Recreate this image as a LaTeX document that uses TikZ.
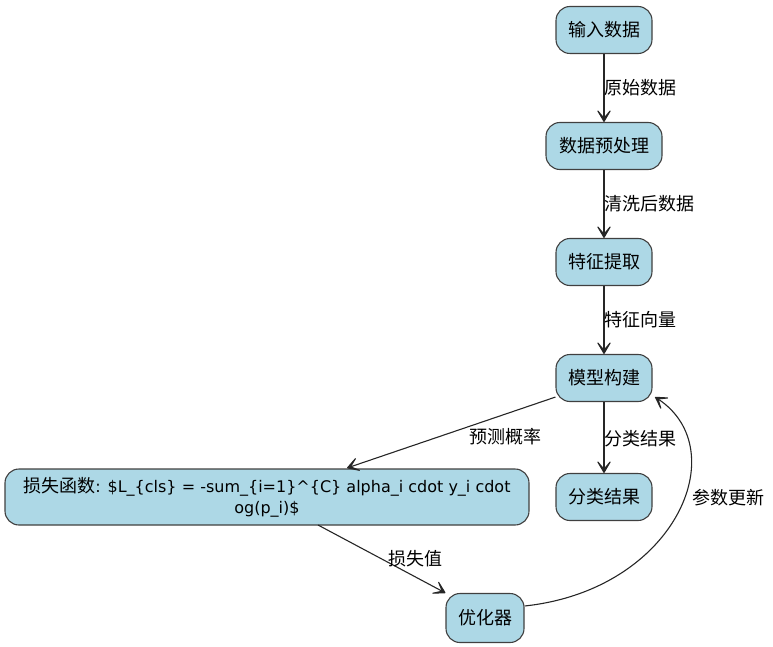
\documentclass[tikz,border=0pt]{standalone}
\usepackage{fontspec}
\setmainfont{DejaVu Sans}
\newfontfamily\cjk{Noto Sans CJK SC}
\usetikzlibrary{arrows.meta}
\begin{document}
\begin{tikzpicture}[x=1pt,y=-1pt,
  box/.style={draw=black!75, line width=1.1pt, fill=lightblue, rounded corners=14pt, minimum height=47pt, inner sep=2pt, font=\fontsize{18}{20}\selectfont},
  conn/.style={draw=black!85, line width=1.1pt, -{Stealth[length=17pt,width=20pt,inset=12pt,round]}},
  lab/.style={font=\cjk\fontsize{18}{20}\selectfont, inner sep=0pt}]
\definecolor{lightblue}{HTML}{ADD8E6}
\useasboundingbox (0,0) rectangle (773,647);
\node[box, minimum width=96pt] (in) at (604,30) {\cjk 输入数据};
\node[box, minimum width=116pt] (pre) at (604,146) {\cjk 数据预处理};
\node[box, minimum width=96pt] (feat) at (604,262) {\cjk 特征提取};
\node[box, minimum width=96pt] (model) at (604,378) {\cjk 模型构建};
\node[box, minimum width=96pt] (cls) at (604,497) {\cjk 分类结果};
\node[box, minimum width=524pt, minimum height=56pt, align=center, font=\fontsize{16}{21}\selectfont] (loss) at (267,497) {{\cjk\fontsize{18}{21}\selectfont 损失函数}: \$L\_\{cls\} = -sum\_\{i=1\}\^{}\{C\} alpha\_i cdot y\_i cdot\\og(p\_i)\$};
\node[box, minimum width=78pt, minimum height=49pt] (opt) at (485,618) {\cjk 优化器};
\draw[conn] (in) -- (pre) node[lab, midway, anchor=west, xshift=0pt] {原始数据};
\draw[conn] (pre) -- (feat) node[lab, midway, anchor=west, xshift=0pt] {清洗后数据};
\draw[conn] (feat) -- (model) node[lab, midway, anchor=west, xshift=0pt] {特征向量};
\draw[conn] (model) -- (cls) node[lab, midway, anchor=west, xshift=0pt, yshift=-1pt] {分类结果};
\path (model.south west) ++(0,-5) coordinate (m1);
\draw[conn] (m1) -- (347,468) coordinate (lossin);
\node[lab] (l1) at (505,437) {预测概率};
\draw[conn] (318,525) coordinate (lossout) -- (opt.north west);
\node[lab] (l2) at (415,559) {损失值};
\draw[conn] (opt.east) ++(0,-12) coordinate (o1) .. controls (675,590) and (735,450) .. (655,397);
\node[lab] (l3) at (728,498) {参数更新};
\end{tikzpicture}
\end{document}
